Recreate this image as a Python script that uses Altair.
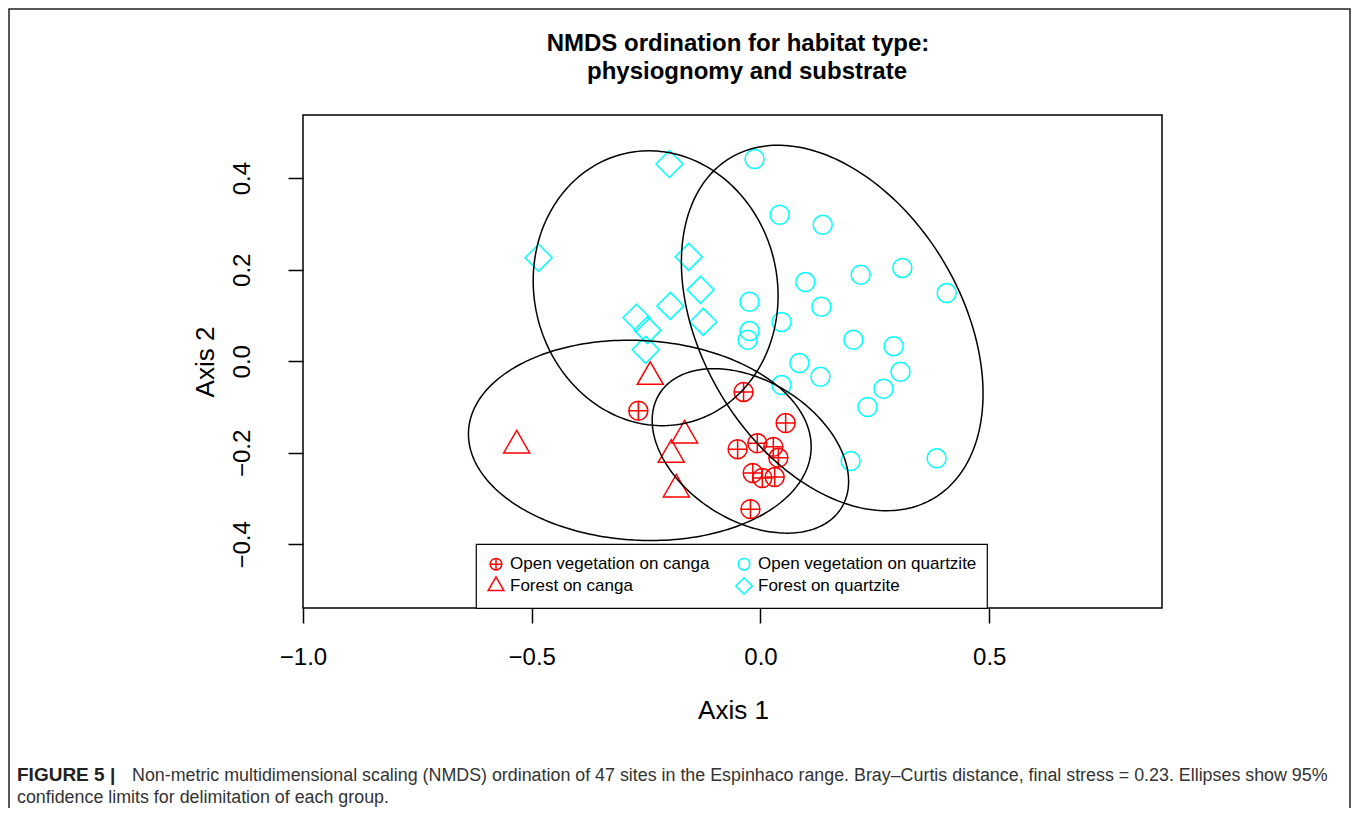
import numpy as np
import pandas as pd
import altair as alt

FONT = "Liberation Sans"

GROUPS = ["Open vegetation on canga", "Open vegetation on quartzite",
          "Forest on canga", "Forest on quartzite"]
COLORS = ["#FF0000", "#00FFFF", "#FF0000", "#00FFFF"]

# site scores (Axis 1, Axis 2)
ovc_x = [-0.267, -0.037, 0.055, -0.050, -0.007, 0.028, 0.039, -0.017, 0.004, 0.031, -0.022]
ovc_y = [-0.108, -0.067, -0.135, -0.192, -0.179, -0.187, -0.211, -0.244, -0.255, -0.253, -0.323]

ovq_x = [-0.013, 0.042, 0.136, 0.098, 0.219, 0.310, 0.407, -0.024, 0.133, -0.024, -0.028,
         0.046, 0.085, 0.203, 0.291, 0.131, 0.046, 0.306, 0.269, 0.234, 0.197, 0.385]
ovq_y = [0.442, 0.320, 0.298, 0.173, 0.189, 0.204, 0.149, 0.130, 0.119, 0.066, 0.047,
         0.086, -0.004, 0.047, 0.033, -0.034, -0.052, -0.023, -0.060, -0.100, -0.218, -0.212]

fc_x = [-0.241, -0.533, -0.166, -0.195, -0.184]
fc_y = [-0.034, -0.184, -0.162, -0.204, -0.280]

fq_x = [-0.199, -0.485, -0.157, -0.131, -0.197, -0.125, -0.271, -0.247, -0.251]
fq_y = [0.431, 0.226, 0.228, 0.156, 0.121, 0.086, 0.095, 0.068, 0.025]

X_TICKS = [-1.0, -0.5, 0.0, 0.5]
Y_TICKS = [-0.4, -0.2, 0.0, 0.2, 0.4]

TITLE_1 = "NMDS ordination for habitat type:"
TITLE_2 = "physiognomy and substrate"
CAP_BOLD = "FIGURE 5 |"
CAP_1 = ("Non-metric multidimensional scaling (NMDS) ordination of 47 sites in the Espinhaco "
         "range. Bray\u2013Curtis distance, final stress = 0.23. Ellipses show 95%")
CAP_2 = "confidence limits for delimitation of each group."

group_xy = {GROUPS[0]: (ovc_x, ovc_y), GROUPS[1]: (ovq_x, ovq_y),
            GROUPS[2]: (fc_x, fc_y), GROUPS[3]: (fq_x, fq_y)}

pts = pd.concat([pd.DataFrame({"group": g, "x": xs, "y": ys})
                 for g, (xs, ys) in group_xy.items()], ignore_index=True)


# 95% confidence (sd) ellipses, as in vegan::ordiellipse
def ellipse(xs, ys, n=240):
    X = np.column_stack([xs, ys])
    c = X.mean(axis=0)
    S = np.cov(X.T)
    scale = np.sqrt(-2.0 * np.log(0.05))
    vals, vecs = np.linalg.eigh(S)
    t = np.linspace(0, 2 * np.pi, n + 1)
    circ = np.vstack([np.cos(t), np.sin(t)])
    e = c[:, None] + scale * (vecs @ (np.sqrt(vals)[:, None] * circ))
    return e[0], e[1]


ell_frames = []
for g, (xs, ys) in group_xy.items():
    ex, ey = ellipse(xs, ys)
    ell_frames.append(pd.DataFrame({"group": g, "idx": np.arange(len(ex)), "x": ex, "y": ey}))
ell = pd.concat(ell_frames, ignore_index=True)

# symbol paths (unit box), one common symbol size
CPLUS = ("M-0.633,0A0.633,0.633,0,1,1,0.633,0A0.633,0.633,0,1,1,-0.633,0Z"
         "M-0.633,0L0.633,0M0,-0.633L0,0.633")
CIRC = "M-0.633,0A0.633,0.633,0,1,1,0.633,0A0.633,0.633,0,1,1,-0.633,0Z"
TRI = "M0,-1L0.866,0.5L-0.866,0.5Z"
DIAM = "M0,-0.9L0.9,0L0,0.9L-0.9,0Z"
SHAPES = [CPLUS, CIRC, TRI, DIAM]

W, H = 859, 493

xenc = alt.X("x:Q",
             scale=alt.Scale(domain=[-1.0, 0.8776], nice=False, zero=False),
             axis=alt.Axis(values=X_TICKS, format=".1f", title="Axis 1",
                           tickSize=15, tickWidth=1.5, tickColor="black",
                           labelFontSize=24, labelFont=FONT, labelColor="black",
                           labelPadding=22, labelFlush=False, labelOverlap=False,
                           domain=False, grid=False,
                           titleFontSize=26, titleFont=FONT, titleFontWeight="normal",
                           titleColor="black", titleX=430, titleY=102,
                           titleAlign="center", titleBaseline="middle"))
yenc = alt.Y("y:Q",
             scale=alt.Scale(domain=[-0.539, 0.538], nice=False, zero=False),
             axis=alt.Axis(values=Y_TICKS, format=".1f", title="Axis 2",
                           tickSize=15, tickWidth=1.5, tickColor="black",
                           labelFontSize=24, labelFont=FONT, labelColor="black",
                           labelAngle=270, labelAlign="center", labelBaseline="bottom",
                           labelPadding=34, labelFlush=False, labelOverlap=False,
                           domain=False, grid=False,
                           titleFontSize=26, titleFont=FONT, titleFontWeight="normal",
                           titleColor="black", titleAngle=270, titleX=-98, titleY=H / 2,
                           titleAlign="center", titleBaseline="middle"))

leg = alt.Legend(title=None, orient="none", legendX=173, legendY=429, columns=2,
                 direction="horizontal",
                 labelFontSize=17, labelFont=FONT, labelColor="black", labelLimit=0,
                 symbolSize=330, symbolStrokeWidth=1.5, strokeColor="black",
                 fillColor="white", padding=10, rowPadding=0, columnPadding=22,
                 labelOffset=4)

points = alt.Chart(pts).mark_point(filled=False, strokeWidth=1.5, opacity=1, size=900).encode(
    x=xenc, y=yenc,
    color=alt.Color("group:N", scale=alt.Scale(domain=GROUPS, range=COLORS), legend=leg),
    shape=alt.Shape("group:N", scale=alt.Scale(domain=GROUPS, range=SHAPES), legend=leg),
)

ellipses = alt.Chart(ell).mark_line(color="black", strokeWidth=1.5, clip=True).encode(
    x=xenc, y=yenc, detail="group:N", order="idx:Q")

one = pd.DataFrame({"a": [1]})

title_1 = alt.Chart(one).mark_text(text=TITLE_1, font=FONT, fontSize=24, fontWeight="bold",
                                   color="black", align="center", baseline="alphabetic").encode(
    x=alt.value(435), y=alt.value(-64))
title_2 = alt.Chart(one).mark_text(text=TITLE_2, font=FONT, fontSize=24, fontWeight="bold",
                                   color="black", align="center", baseline="alphabetic").encode(
    x=alt.value(444), y=alt.value(-36))

cap_b = alt.Chart(one).mark_text(text=CAP_BOLD, font=FONT, fontSize=19, fontWeight="bold",
                                 color="#222222", align="left", baseline="alphabetic").encode(
    x=alt.value(-286), y=alt.value(666))
cap_1 = alt.Chart(one).mark_text(text=CAP_1, font=FONT, fontSize=17.85, color="#333333",
                                 align="left", baseline="alphabetic").encode(
    x=alt.value(-171), y=alt.value(666))
cap_2 = alt.Chart(one).mark_text(text=CAP_2, font=FONT, fontSize=17.85, color="#333333",
                                 align="left", baseline="alphabetic").encode(
    x=alt.value(-286), y=alt.value(688))
frame = alt.Chart(one).mark_rect(fillOpacity=0, stroke="#222222", strokeWidth=1.5).encode(
    x=alt.value(-294), x2=alt.value(1047), y=alt.value(-106), y2=alt.value(760))

chart = alt.layer(frame, points, ellipses, title_1, title_2, cap_b, cap_1, cap_2).properties(
    width=W, height=H,
    autosize=alt.AutoSizeParams(type="none"),
    padding={"left": 295, "top": 107, "right": 189, "bottom": 200},
).configure_view(stroke="black", strokeWidth=1.5).configure_legend(strokeWidth=1.2)

chart.save("out.html", embed_options={"renderer": "svg", "actions": False})
